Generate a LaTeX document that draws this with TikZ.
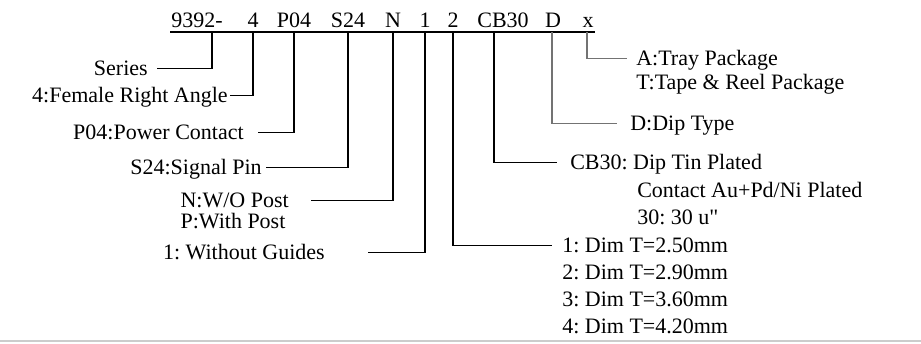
\documentclass[tikz,border=0pt]{standalone}
\usepackage{fontspec}
\setmainfont{Liberation Serif}
\usetikzlibrary{calc,positioning}
\frenchspacing
\newcommand{\inchmark}{\XeTeXglyph\XeTeXcharglyph"22\relax}

\tikzset{
  code/.style={anchor=base,inner sep=0pt},
  lbl/.style={anchor=base east,inner sep=0pt},
  rlbl/.style={anchor=base west,inner sep=0pt},
  lead/.style={line width=0.8pt,black},
  leadgray/.style={line width=0.8pt,black!55}
}

\begin{document}
\begin{tikzpicture}[x=0.75pt,y=-0.75pt,font=\fontsize{16.5}{19}\selectfont]
			\useasboundingbox (0,0) rectangle (921,343);
			\node[code] (c9392) at (197,27) {9392-};
			\node[code] (c4) at (253,27) {4};
			\node[code] (cP04) at (294,27) {P04};
			\node[code] (cS24) at (348,27) {S24};
			\node[code] (cN) at (393,27) {N};
			\node[code] (c1) at (425,27) {1};
			\node[code] (c2) at (453,27) {2};
			\node[code] (cCB30) at (503,27) {CB30};
			\node[code] (cD) at (553,27) {D};
			\node[code] (cx) at (588,27) {x};
			\coordinate (lineL) at (170,32);
			\coordinate (lineR) at (595,32);
			\draw[lead] (lineL) to (lineR);
			\node[lbl] (lSeries) at (148,75) {Series};
			\node[lbl] (lFemale) at (228,102) {4:Female Right Angle};
			\node[lbl] (lP04) at (244,139) {P04:Power Contact};
			\node[lbl] (lS24) at (262,174) {S24:Signal Pin};
			\node[lbl] (lN) at (289,207) {N:W/O Post};
			\node[rlbl] (lNpost) at ([yshift=-15.75pt]lN.base west) {P:With Post};
			\node[lbl] (lGuide) at (325,259) {1: Without Guides};
			\node[rlbl] (lTray) at (636,65) {A:Tray Package};
			\node[rlbl] (lTape) at (636,89) {T:Tape \& Reel Package};
			\node[rlbl] (lDip) at (630,130) {D:Dip Type};
			\node[rlbl] (lCB30) at (570,169) {CB30: Dip Tin Plated};
			\node[rlbl] (lAu) at (637,197) {Contact Au+Pd/Ni Plated};
			\node[rlbl] (lu) at (637,224) {30: 30 u\inchmark};
			\node[rlbl] (lT1) at (562,252) {1: Dim T=2.50mm};
			\node[rlbl] (lT2) at (562,279) {2: Dim T=2.90mm};
			\node[rlbl] (lT3) at (562,306) {3: Dim T=3.60mm};
			\node[rlbl] (lT4) at (562,333) {4: Dim T=4.20mm};
			\draw[lead] ([xshift=11.25pt]c9392 |- lineL) |- ([xshift=6.75pt,yshift=5pt]lSeries.base east);
			\draw[lead] (c4 |- lineL) |- ([xshift=1.5pt,yshift=5pt]lFemale.base east);
			\draw[lead] (cP04 |- lineL) |- ([xshift=10.5pt,yshift=5pt]lP04.base east);
			\draw[lead] (cS24 |- lineL) |- ([xshift=3pt,yshift=5pt]lS24.base east);
			\draw[lead] (cN |- lineL) |- ([xshift=16.5pt,yshift=5pt]lN.base east);
			\draw[lead] (c1 |- lineL) |- ([xshift=32.25pt,yshift=5pt]lGuide.base east);
			\draw[lead] (c2 |- lineL) |- ([xshift=-7.5pt,yshift=5pt]lT1.base west);
			\draw[lead] ([xshift=-6.75pt]cCB30 |- lineL) |- ([xshift=-9.75pt,yshift=5pt]lCB30.base west);
			\draw[leadgray] ([xshift=-0.75pt]cD |- lineL) |- ([xshift=-9.75pt,yshift=5pt]lDip.base west);
			\draw[leadgray] ([xshift=-0.75pt]cx |- lineL) |- ([xshift=-6.75pt,yshift=5pt]lTray.base west);
			\draw[black!20,line width=1pt] (0,341) to (921,341);
\end{tikzpicture}
\end{document}
